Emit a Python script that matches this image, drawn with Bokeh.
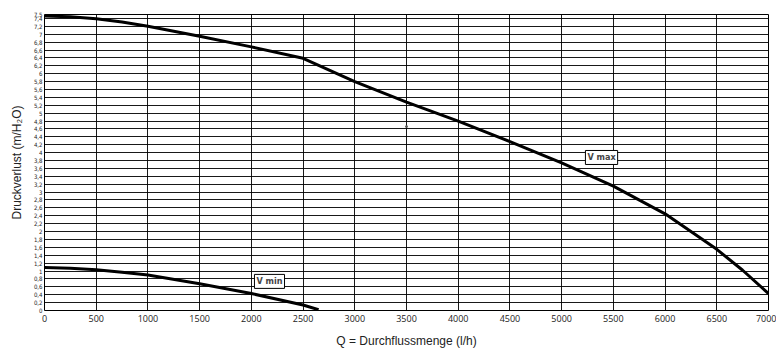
from bokeh.plotting import figure
from bokeh.models import FixedTicker, Label
from bokeh.embed import file_html
from bokeh.resources import INLINE

# data
vmax_q = [0, 250, 500, 750, 1000, 1500, 2000, 2500, 3000, 3500, 4000, 4500, 5000, 5500, 6000, 6500, 6750, 7000]
vmax_h = [7.46, 7.44, 7.39, 7.31, 7.2, 6.95, 6.68, 6.39, 5.8, 5.28, 4.8, 4.28, 3.74, 3.15, 2.45, 1.55, 1.02, 0.43]
vmin_q = [0, 250, 500, 750, 1000, 1500, 2000, 2500, 2650]
vmin_h = [1.09, 1.07, 1.03, 0.97, 0.9, 0.68, 0.43, 0.14, 0.02]
dot_q = [3500]
dot_h = [4.66]

y_ticks = [round(i * 0.2, 1) for i in range(38)] + [7.5]
x_ticks = list(range(0, 7001, 500))

p = figure(width=776, height=352, output_backend="svg", toolbar_location=None,
           x_range=(0, 7000), y_range=(0, 7.5),
           min_border_left=44, min_border_right=8, min_border_top=14, min_border_bottom=42)
p.outline_line_color = "black"
p.outline_line_width = 1

p.yaxis.ticker = FixedTicker(ticks=y_ticks)
p.yaxis.major_label_overrides = {t: (str(t).replace(".", ",") if t != int(t) else str(int(t))) for t in y_ticks}
p.xaxis.ticker = FixedTicker(ticks=x_ticks)

for ax in (p.xaxis, p.yaxis):
    ax.axis_line_color = None
    ax.major_tick_line_color = None
    ax.minor_tick_line_color = None
    ax.major_tick_out = 0
    ax.major_tick_in = 0
    ax.minor_tick_out = 0
    ax.major_label_text_color = "#222222"

p.yaxis.major_label_text_font = "DejaVu Sans Condensed"
p.yaxis.major_label_text_font_size = "6px"
p.yaxis.major_label_standoff = 2
p.xaxis.major_label_text_font = "Open Sans"
p.xaxis.major_label_text_font_size = "9px"
p.xaxis.major_label_standoff = 4

p.yaxis.axis_label = "Druckverlust (m/H\u2082O)"
p.xaxis.axis_label = "Q = Durchflussmenge (l/h)"
for ax in (p.xaxis, p.yaxis):
    ax.axis_label_text_font = "Liberation Sans"
    ax.axis_label_text_font_style = "normal"
    ax.axis_label_text_font_size = "12px"
    ax.axis_label_text_color = "#222222"
p.yaxis.axis_label_standoff = 7
p.xaxis.axis_label_standoff = 9

p.xgrid.ticker = FixedTicker(ticks=x_ticks)
p.ygrid.ticker = FixedTicker(ticks=y_ticks)
for g in (p.xgrid, p.ygrid):
    g.grid_line_color = "black"
    g.grid_line_width = 1
    g.grid_line_alpha = 0.9

p.line(vmax_q, vmax_h, line_color="black", line_width=3)
p.line(vmin_q, vmin_h, line_color="black", line_width=3)
p.scatter(dot_q, dot_h, size=2, color="#555555")

for txt, xq, yh in [("V max", 5230, 3.7), ("V min", 2030, 0.56)]:
    p.add_layout(Label(x=xq, y=yh, text=txt, text_font="DejaVu Sans Condensed",
                       text_font_style="bold", text_font_size="9px",
                       border_line_color="black", border_line_width=1,
                       background_fill_color="white", padding=2))

open("out.html", "w").write(file_html(p, INLINE))
